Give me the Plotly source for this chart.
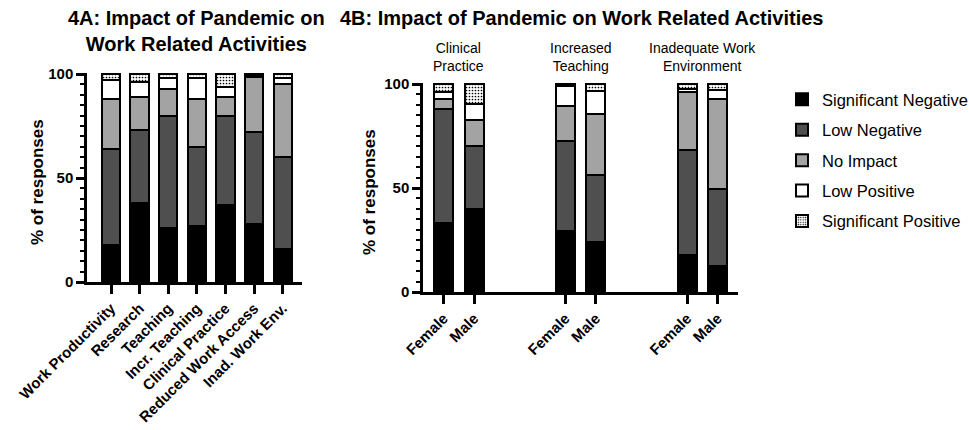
import plotly.graph_objects as go

# Response levels (stack order, bottom to top)
levels = ["Significant Negative", "Low Negative", "No Impact", "Low Positive", "Significant Positive"]

# 4A: overall impact per activity (% of responses)
activities = ["Work Productivity", "Research", "Teaching", "Incr. Teaching",
              "Clinical Practice", "Reduced Work Access", "Inad. Work Env."]
a_sig_neg = [18, 38, 26, 27, 37, 28, 16]
a_low_neg = [46, 35, 54, 38, 43, 44, 44]
a_no_imp = [24, 16, 13, 23, 9, 26.5, 35]
a_low_pos = [9, 7, 5, 10, 5, 1, 3]
a_sig_pos = [3, 4, 2, 2, 6, 0.5, 2]

# 4B: impact by gender for three activities
b_groups = ["Clinical<br>Practice", "Increased<br>Teaching", "Inadequate Work<br>Environment"]
b_sexes = ["Female", "Male"]
b_sig_neg = [33, 40, 29.5, 24, 18, 12.5]
b_low_neg = [55, 30, 43, 32.5, 50.5, 37]
b_no_imp = [5, 12.5, 17, 29, 27.5, 43.5]
b_low_pos = [3, 8, 9.5, 11, 1.5, 4]
b_sig_pos = [4, 9.5, 1, 3.5, 2.5, 3]

a_series = [a_sig_neg, a_low_neg, a_no_imp, a_low_pos, a_sig_pos]
b_series = [b_sig_neg, b_low_neg, b_no_imp, b_low_pos, b_sig_pos]

fills = ["#000000", "#4f4f4f", "#a3a3a3", "#ffffff", "#ffffff"]
patterns = [None, None, None, None, dict(shape=".", fgcolor="#000000", bgcolor="#ffffff",
                                          size=3, solidity=0.25, fillmode="replace")]

FONT = "Liberation Sans, Arial, sans-serif"

# Numeric x positions for 4B: pairs of bars with a gap between groups
b_x = [g * 4 + s for g in range(len(b_groups)) for s in range(len(b_sexes))]
b_ticktext = [s for _ in b_groups for s in b_sexes]

fig = go.Figure()

for name, vals, col, pat in zip(levels, a_series, fills, patterns):
    marker = dict(color=col, line=dict(color="#000000", width=2))
    if pat:
        marker["pattern"] = pat
    fig.add_trace(go.Bar(x=list(range(len(activities))), y=vals, name=name, marker=marker,
                         width=0.64, xaxis="x", yaxis="y", legendgroup=name))

for name, vals, col, pat in zip(levels, b_series, fills, patterns):
    marker = dict(color=col, line=dict(color="#000000", width=2))
    if pat:
        marker["pattern"] = pat
    fig.add_trace(go.Bar(x=b_x, y=vals, name=name, marker=marker, width=0.625,
                         xaxis="x2", yaxis="y2", showlegend=False, legendgroup=name))

W, H = 969, 430

axis_common = dict(showline=True, linecolor="#000000", linewidth=2.5, ticks="outside",
                   tickcolor="#000000", tickwidth=2.5, showgrid=False, zeroline=False,
                   automargin=False,
                   tickfont=dict(family=FONT, size=15, color="#000000", weight="bold"))

y_common = dict(axis_common, range=[0, 100.5], tickvals=[0, 50, 100], ticklen=8,
                minor=dict(dtick=5, ticks="outside", ticklen=4, tickwidth=2, tickcolor="#000000"))

x_font = dict(family=FONT, size=15, color="#000000", weight="bold")

fig.update_layout(
    template="none",
    width=W, height=H,
    margin=dict(l=0, r=0, t=0, b=0, autoexpand=False),
    paper_bgcolor="#ffffff", plot_bgcolor="#ffffff",
    barmode="stack", bargap=0,
    font=dict(family=FONT, color="#000000"),
    xaxis=dict(axis_common, domain=[87 / W, 302 / W], range=[-0.84, 6.675],
               tickvals=list(range(len(activities))), ticktext=activities,
               tickangle=-45, ticklen=9, tickfont=x_font),
    yaxis=dict(y_common, domain=[1 - 282 / H, 1 - 73 / H], anchor="x"),
    xaxis2=dict(axis_common, domain=[423 / W, 738 / W], range=[-0.68, 9.67],
                tickvals=b_x, ticktext=b_ticktext, tickangle=-45, ticklen=9, anchor="y2",
                tickfont=x_font),
    yaxis2=dict(y_common, domain=[1 - 292 / H, 1 - 83 / H], anchor="x2"),
    legend=dict(x=782 / W, y=1 - 82 / H, xanchor="left", yanchor="top",
                font=dict(family=FONT, size=16.5, color="#000000"),
                tracegroupgap=6, itemwidth=30, bgcolor="rgba(0,0,0,0)"),
    showlegend=True,
)

annotations = [
    dict(text="4A: Impact of Pandemic on<br>Work Related Activities", x=196 / W, y=1 - 5 / H,
         xref="paper", yref="paper", xanchor="center", yanchor="top", showarrow=False,
         font=dict(family=FONT, size=20, color="#000000", weight="bold")),
    dict(text="4B: Impact of Pandemic on Work Related Activities", x=581 / W, y=1 - 5 / H,
         xref="paper", yref="paper", xanchor="center", yanchor="top", showarrow=False,
         font=dict(family=FONT, size=20, color="#000000", weight="bold")),
    dict(text="% of responses", x=38 / W, y=1 - 182 / H, xref="paper", yref="paper",
         textangle=-90, showarrow=False, xanchor="center", yanchor="middle",
         font=dict(family=FONT, size=17, color="#000000", weight="bold")),
    dict(text="% of responses", x=369 / W, y=1 - 192 / H, xref="paper", yref="paper",
         textangle=-90, showarrow=False, xanchor="center", yanchor="middle",
         font=dict(family=FONT, size=17, color="#000000", weight="bold")),
]
for g, label in enumerate(b_groups):
    annotations.append(dict(text=label, x=g * 4 + 0.5, y=1 - 38 / H, xref="x2", yref="paper",
                            xanchor="center", yanchor="top", showarrow=False,
                            font=dict(family=FONT, size=14, color="#000000")))
fig.update_layout(annotations=annotations)

fig.write_html("out.html")
